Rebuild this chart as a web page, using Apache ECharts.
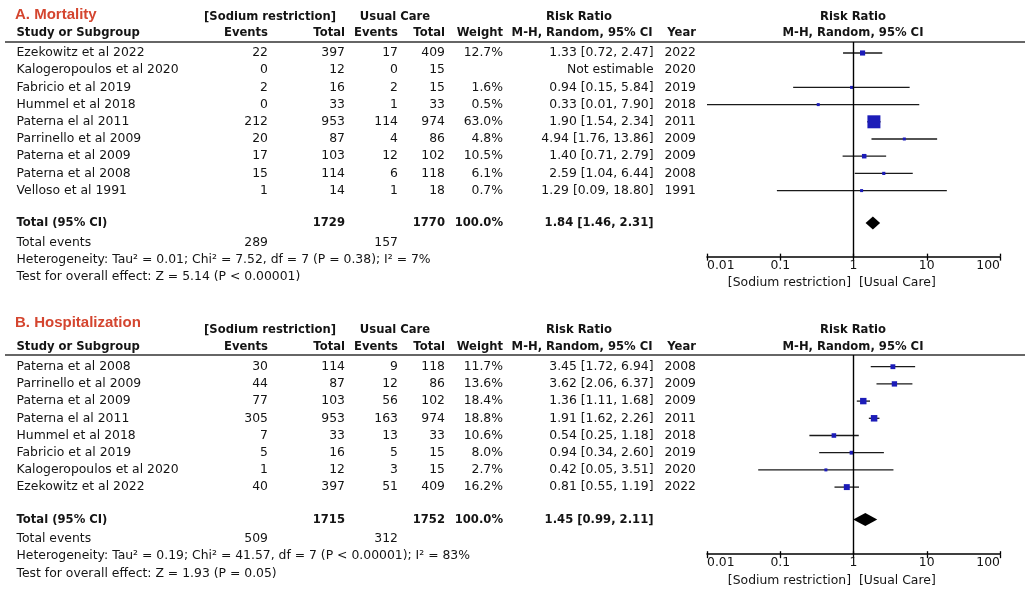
<!DOCTYPE html>
<html><head><meta charset="utf-8">
<script src="https://cdn.jsdelivr.net/npm/echarts@6/dist/echarts.min.js"></script>
<style>html,body{margin:0;padding:0;background:#fff}#c{width:1036px;height:601px}</style>
</head><body><div id="c"></div>
<script>
// ---------------- DATA ----------------
const tickLabels = ['0.01', '0.1', '1', '10', '100'];
const favourLabels = ['[Sodium restriction]', '[Usual Care]'];

// A. Mortality
const mortStudies = ['Ezekowitz et al 2022', 'Kalogeropoulos et al 2020', 'Fabricio et al 2019', 'Hummel et al 2018', 'Paterna el al 2011', 'Parrinello et al 2009', 'Paterna et al 2009', 'Paterna et al 2008', 'Velloso et al 1991'];
const mortExpEvents = [22, 0, 2, 0, 212, 20, 17, 15, 1];
const mortExpTotal = [397, 12, 16, 33, 953, 87, 103, 114, 14];
const mortCtlEvents = [17, 0, 2, 1, 114, 4, 12, 6, 1];
const mortCtlTotal = [409, 15, 15, 33, 974, 86, 102, 118, 18];
const mortWeight = [12.7, null, 1.6, 0.5, 63.0, 4.8, 10.5, 6.1, 0.7];
const mortRR = [1.33, null, 0.94, 0.33, 1.90, 4.94, 1.40, 2.59, 1.29];
const mortLo = [0.72, null, 0.15, 0.01, 1.54, 1.76, 0.71, 1.04, 0.09];
const mortHi = [2.47, null, 5.84, 7.90, 2.34, 13.86, 2.79, 6.44, 18.80];
const mortYear = [2022, 2020, 2019, 2018, 2011, 2009, 2009, 2008, 1991];
const mortTotals = [1729, 1770];
const mortTotalEvents = [289, 157];
const mortPooled = [1.84, 1.46, 2.31];
const mortHet = 'Heterogeneity: Tau² = 0.01; Chi² = 7.52, df = 7 (P = 0.38); I² = 7%';
const mortTest = 'Test for overall effect: Z = 5.14 (P < 0.00001)';

// B. Hospitalization
const hospStudies = ['Paterna et al 2008', 'Parrinello et al 2009', 'Paterna et al 2009', 'Paterna el al 2011', 'Hummel et al 2018', 'Fabricio et al 2019', 'Kalogeropoulos et al 2020', 'Ezekowitz et al 2022'];
const hospExpEvents = [30, 44, 77, 305, 7, 5, 1, 40];
const hospExpTotal = [114, 87, 103, 953, 33, 16, 12, 397];
const hospCtlEvents = [9, 12, 56, 163, 13, 5, 3, 51];
const hospCtlTotal = [118, 86, 102, 974, 33, 15, 15, 409];
const hospWeight = [11.7, 13.6, 18.4, 18.8, 10.6, 8.0, 2.7, 16.2];
const hospRR = [3.45, 3.62, 1.36, 1.91, 0.54, 0.94, 0.42, 0.81];
const hospLo = [1.72, 2.06, 1.11, 1.62, 0.25, 0.34, 0.05, 0.55];
const hospHi = [6.94, 6.37, 1.68, 2.26, 1.18, 2.60, 3.51, 1.19];
const hospYear = [2008, 2009, 2009, 2011, 2018, 2019, 2020, 2022];
const hospTotals = [1715, 1752];
const hospTotalEvents = [509, 312];
const hospPooled = [1.45, 0.99, 2.11];
const hospHet = 'Heterogeneity: Tau² = 0.19; Chi² = 41.57, df = 7 (P < 0.00001); I² = 83%';
const hospTest = 'Test for overall effect: Z = 1.93 (P = 0.05)';

// ---------------- LAYOUT ----------------
const FONT = 'DejaVu Sans';
const TITLE_FONT = 'Liberation Sans';
const REG = 12.4, BOLD = 11.6;
const TXT = '#141414';
const RH = 17.2;
const COL = { name: 16.5, expEv: 268, expTot: 345, ctlEv: 398, ctlTot: 445, weight: 503, rr: 653.5, year: 696,
  grp1: 270, grp2: 395, rrHead: 579, plot: 853, favL: 851, favR: 859, title: 15, ruleL: 5, ruleR: 1025 };
const PLOT_LEFT = 707, PLOT_RIGHT = 1000;

const panels = [
  { title: 'A. Mortality', row0: 53, titleRow: -2.21, hline: -0.64, axisOff: 2.84,
    studies: mortStudies, expEv: mortExpEvents, expTot: mortExpTotal, ctlEv: mortCtlEvents, ctlTot: mortCtlTotal,
    w: mortWeight, rr: mortRR, lo: mortLo, hi: mortHi, year: mortYear, totals: mortTotals, totEv: mortTotalEvents,
    pooled: mortPooled, het: mortHet, test: mortTest },
  { title: 'B. Hospitalization', row0: 366.7, titleRow: -2.56, hline: -0.68, axisOff: 2.9,
    studies: hospStudies, expEv: hospExpEvents, expTot: hospExpTotal, ctlEv: hospCtlEvents, ctlTot: hospCtlTotal,
    w: hospWeight, rr: hospRR, lo: hospLo, hi: hospHi, year: hospYear, totals: hospTotals, totEv: hospTotalEvents,
    pooled: hospPooled, het: hospHet, test: hospTest }
];

const fmt2 = v => v.toFixed(2);
const ciText = (r, l, h) => `${fmt2(r)} [${fmt2(l)}, ${fmt2(h)}]`;

const grid = [], xAxis = [], yAxis = [], series = [];

panels.forEach((p, k) => {
  const n = p.studies.length;
  const tMin = -3, tMax = n + 5;
  const totalRow = n + 0.885, totEvRow = n + 2.02, hetRow = n + 3.01, testRow = n + 4.03;
  const axisRow = n + p.axisOff;
  const favRow = axisRow + 1.53;
  const h1 = -2.12, h2 = -1.15;

  // table grid
  const tg = grid.length;
  grid.push({ left: 0, width: 1036, top: p.row0 + tMin * RH, height: (tMax - tMin) * RH, containLabel: false });
  const tx = xAxis.length;
  xAxis.push({ gridIndex: tg, type: 'value', min: 0, max: 1036, show: false });
  const ty = yAxis.length;
  yAxis.push({ gridIndex: tg, type: 'value', min: tMin, max: tMax, inverse: true, show: false });

  // forest grid
  const fg = grid.length;
  grid.push({ left: PLOT_LEFT, width: PLOT_RIGHT - PLOT_LEFT, top: p.row0 + p.hline * RH,
    height: (axisRow - p.hline) * RH, containLabel: false });
  const fx = xAxis.length;
  const labelFmt = v => tickLabels[Math.round(Math.log10(v)) + 2];
  xAxis.push({ gridIndex: fg, type: 'log', logBase: 10, min: 0.01, max: 100, position: 'bottom',
    axisLine: { show: true, onZero: false, lineStyle: { color: '#000', width: 1.5 } },
    axisTick: { show: true, inside: false, length: 4, lineStyle: { color: '#000', width: 1.3 } },
    axisLabel: { show: true, margin: 3, formatter: labelFmt, color: TXT, fontFamily: FONT, fontSize: REG,
      alignMinLabel: 'left', alignMaxLabel: 'right' },
    splitLine: { show: false }, minorTick: { show: false } });
  xAxis.push({ gridIndex: fg, type: 'log', logBase: 10, min: 0.01, max: 100, position: 'bottom',
    axisLine: { show: false, onZero: false },
    axisTick: { show: true, inside: true, length: 3, lineStyle: { color: '#000', width: 1.3 } },
    axisLabel: { show: false }, splitLine: { show: false } });
  const fy = yAxis.length;
  yAxis.push({ gridIndex: fg, type: 'value', min: p.hline, max: axisRow, inverse: true, show: false });

  // ---- text items
  const items = [];
  const T = (x, row, text, align, opt = {}) => items.push({ x, row, text: String(text), align, ...opt });
  T(COL.title, p.titleRow, p.title, 'left', { bold: true, size: 15, color: '#d4452f', family: TITLE_FONT });
  T(COL.grp1, h1, '[Sodium restriction]', 'center', { bold: true });
  T(COL.grp2, h1, 'Usual Care', 'center', { bold: true });
  T(COL.rrHead, h1, 'Risk Ratio', 'center', { bold: true });
  T(COL.plot, h1, 'Risk Ratio', 'center', { bold: true });
  T(COL.name, h2, 'Study or Subgroup', 'left', { bold: true });
  T(COL.expEv, h2, 'Events', 'right', { bold: true });
  T(COL.expTot, h2, 'Total', 'right', { bold: true });
  T(COL.ctlEv, h2, 'Events', 'right', { bold: true });
  T(COL.ctlTot, h2, 'Total', 'right', { bold: true });
  T(COL.weight, h2, 'Weight', 'right', { bold: true });
  T(COL.rr - 1, h2, 'M-H, Random, 95% CI', 'right', { bold: true });
  T(COL.year, h2, 'Year', 'right', { bold: true });
  T(COL.plot, h2, 'M-H, Random, 95% CI', 'center', { bold: true });
  for (let i = 0; i < n; i++) {
    T(COL.name, i, p.studies[i], 'left');
    T(COL.expEv, i, p.expEv[i], 'right');
    T(COL.expTot, i, p.expTot[i], 'right');
    T(COL.ctlEv, i, p.ctlEv[i], 'right');
    T(COL.ctlTot, i, p.ctlTot[i], 'right');
    if (p.w[i] != null) T(COL.weight, i, p.w[i].toFixed(1) + '%', 'right');
    T(COL.rr, i, p.rr[i] != null ? ciText(p.rr[i], p.lo[i], p.hi[i]) : 'Not estimable', 'right');
    T(COL.year, i, p.year[i], 'right');
  }
  T(COL.name, totalRow, 'Total (95% CI)', 'left', { bold: true });
  T(COL.expTot, totalRow, p.totals[0], 'right', { bold: true });
  T(COL.ctlTot, totalRow, p.totals[1], 'right', { bold: true });
  T(COL.weight, totalRow, '100.0%', 'right', { bold: true });
  T(COL.rr, totalRow, ciText(p.pooled[0], p.pooled[1], p.pooled[2]), 'right', { bold: true });
  T(COL.name, totEvRow, 'Total events', 'left');
  T(COL.expEv, totEvRow, p.totEv[0], 'right');
  T(COL.ctlEv, totEvRow, p.totEv[1], 'right');
  T(COL.name, hetRow, p.het, 'left');
  T(COL.name, testRow, p.test, 'left');
  T(COL.favL, favRow, favourLabels[0], 'right');
  T(COL.favR, favRow, favourLabels[1], 'left');

  series.push({
    type: 'custom', coordinateSystem: 'cartesian2d', xAxisIndex: tx, yAxisIndex: ty, silent: true,
    data: items.map(t => [t.x, t.row]),
    renderItem: (params, api) => {
      const t = items[params.dataIndex];
      const pt = api.coord([api.value(0), api.value(1)]);
      return { type: 'text', silent: true, style: {
        x: pt[0], y: pt[1], text: t.text, align: t.align, verticalAlign: 'middle',
        fontFamily: t.family || FONT, fontWeight: t.bold ? 'bold' : 'normal',
        fontSize: t.size || (t.bold ? BOLD : REG), fill: t.color || TXT } };
    }
  });
  // header rule
  series.push({
    type: 'custom', coordinateSystem: 'cartesian2d', xAxisIndex: tx, yAxisIndex: ty, silent: true,
    data: [[COL.ruleL, COL.ruleR, p.hline]],
    renderItem: (params, api) => {
      const a = api.coord([api.value(0), api.value(2)]);
      const b = api.coord([api.value(1), api.value(2)]);
      return { type: 'line', shape: { x1: a[0], y1: a[1], x2: b[0], y2: b[1] },
        style: { stroke: '#333', lineWidth: 1.6 } };
    }
  });

  // CI lines + null line
  const ciData = [];
  const sqData = [];
  for (let i = 0; i < n; i++) {
    if (p.rr[i] == null) continue;
    ciData.push([p.lo[i], p.hi[i], i]);
    sqData.push([p.rr[i], i, p.w[i]]);
  }
  series.push({
    type: 'custom', coordinateSystem: 'cartesian2d', xAxisIndex: fx, yAxisIndex: fy, silent: true,
    encode: { x: [0, 1], y: 2 },
    data: ciData,
    renderItem: (params, api) => {
      const a = api.coord([api.value(0), api.value(2)]);
      const b = api.coord([api.value(1), api.value(2)]);
      return { type: 'line', shape: { x1: a[0], y1: a[1], x2: b[0], y2: b[1] },
        style: { stroke: '#1a1a1a', lineWidth: 1.3 } };
    },
    markLine: { silent: true, symbol: 'none', label: { show: false },
      lineStyle: { color: '#000', width: 1.4, type: 'solid' }, data: [{ xAxis: 1 }] }
  });
  series.push({
    type: 'scatter', xAxisIndex: fx, yAxisIndex: fy, silent: true, symbol: 'rect',
    symbolSize: v => Math.max(3, 1.8 * Math.sqrt(v[2]) - 1.3),
    itemStyle: { color: '#1c1cb8', opacity: 1 },
    data: sqData
  });
  // pooled diamond
  series.push({
    type: 'custom', coordinateSystem: 'cartesian2d', xAxisIndex: fx, yAxisIndex: fy, silent: true,
    encode: { x: [0, 1, 2], y: 3 },
    data: [[p.pooled[0], p.pooled[1], p.pooled[2], totalRow]],
    renderItem: (params, api) => {
      const c = api.coord([api.value(0), api.value(3)]);
      const l = api.coord([api.value(1), api.value(3)]);
      const r = api.coord([api.value(2), api.value(3)]);
      const hh = 6.6;
      return { type: 'polygon', shape: { points: [[l[0], c[1]], [c[0], c[1] - hh], [r[0], c[1]], [c[0], c[1] + hh]] },
        style: { fill: '#000' } };
    }
  });
});

const chart = echarts.init(document.getElementById('c'), null, { renderer: 'canvas' });
chart.setOption({ animation: false, backgroundColor: '#fff', grid, xAxis, yAxis, series });
</script>
</body></html>
